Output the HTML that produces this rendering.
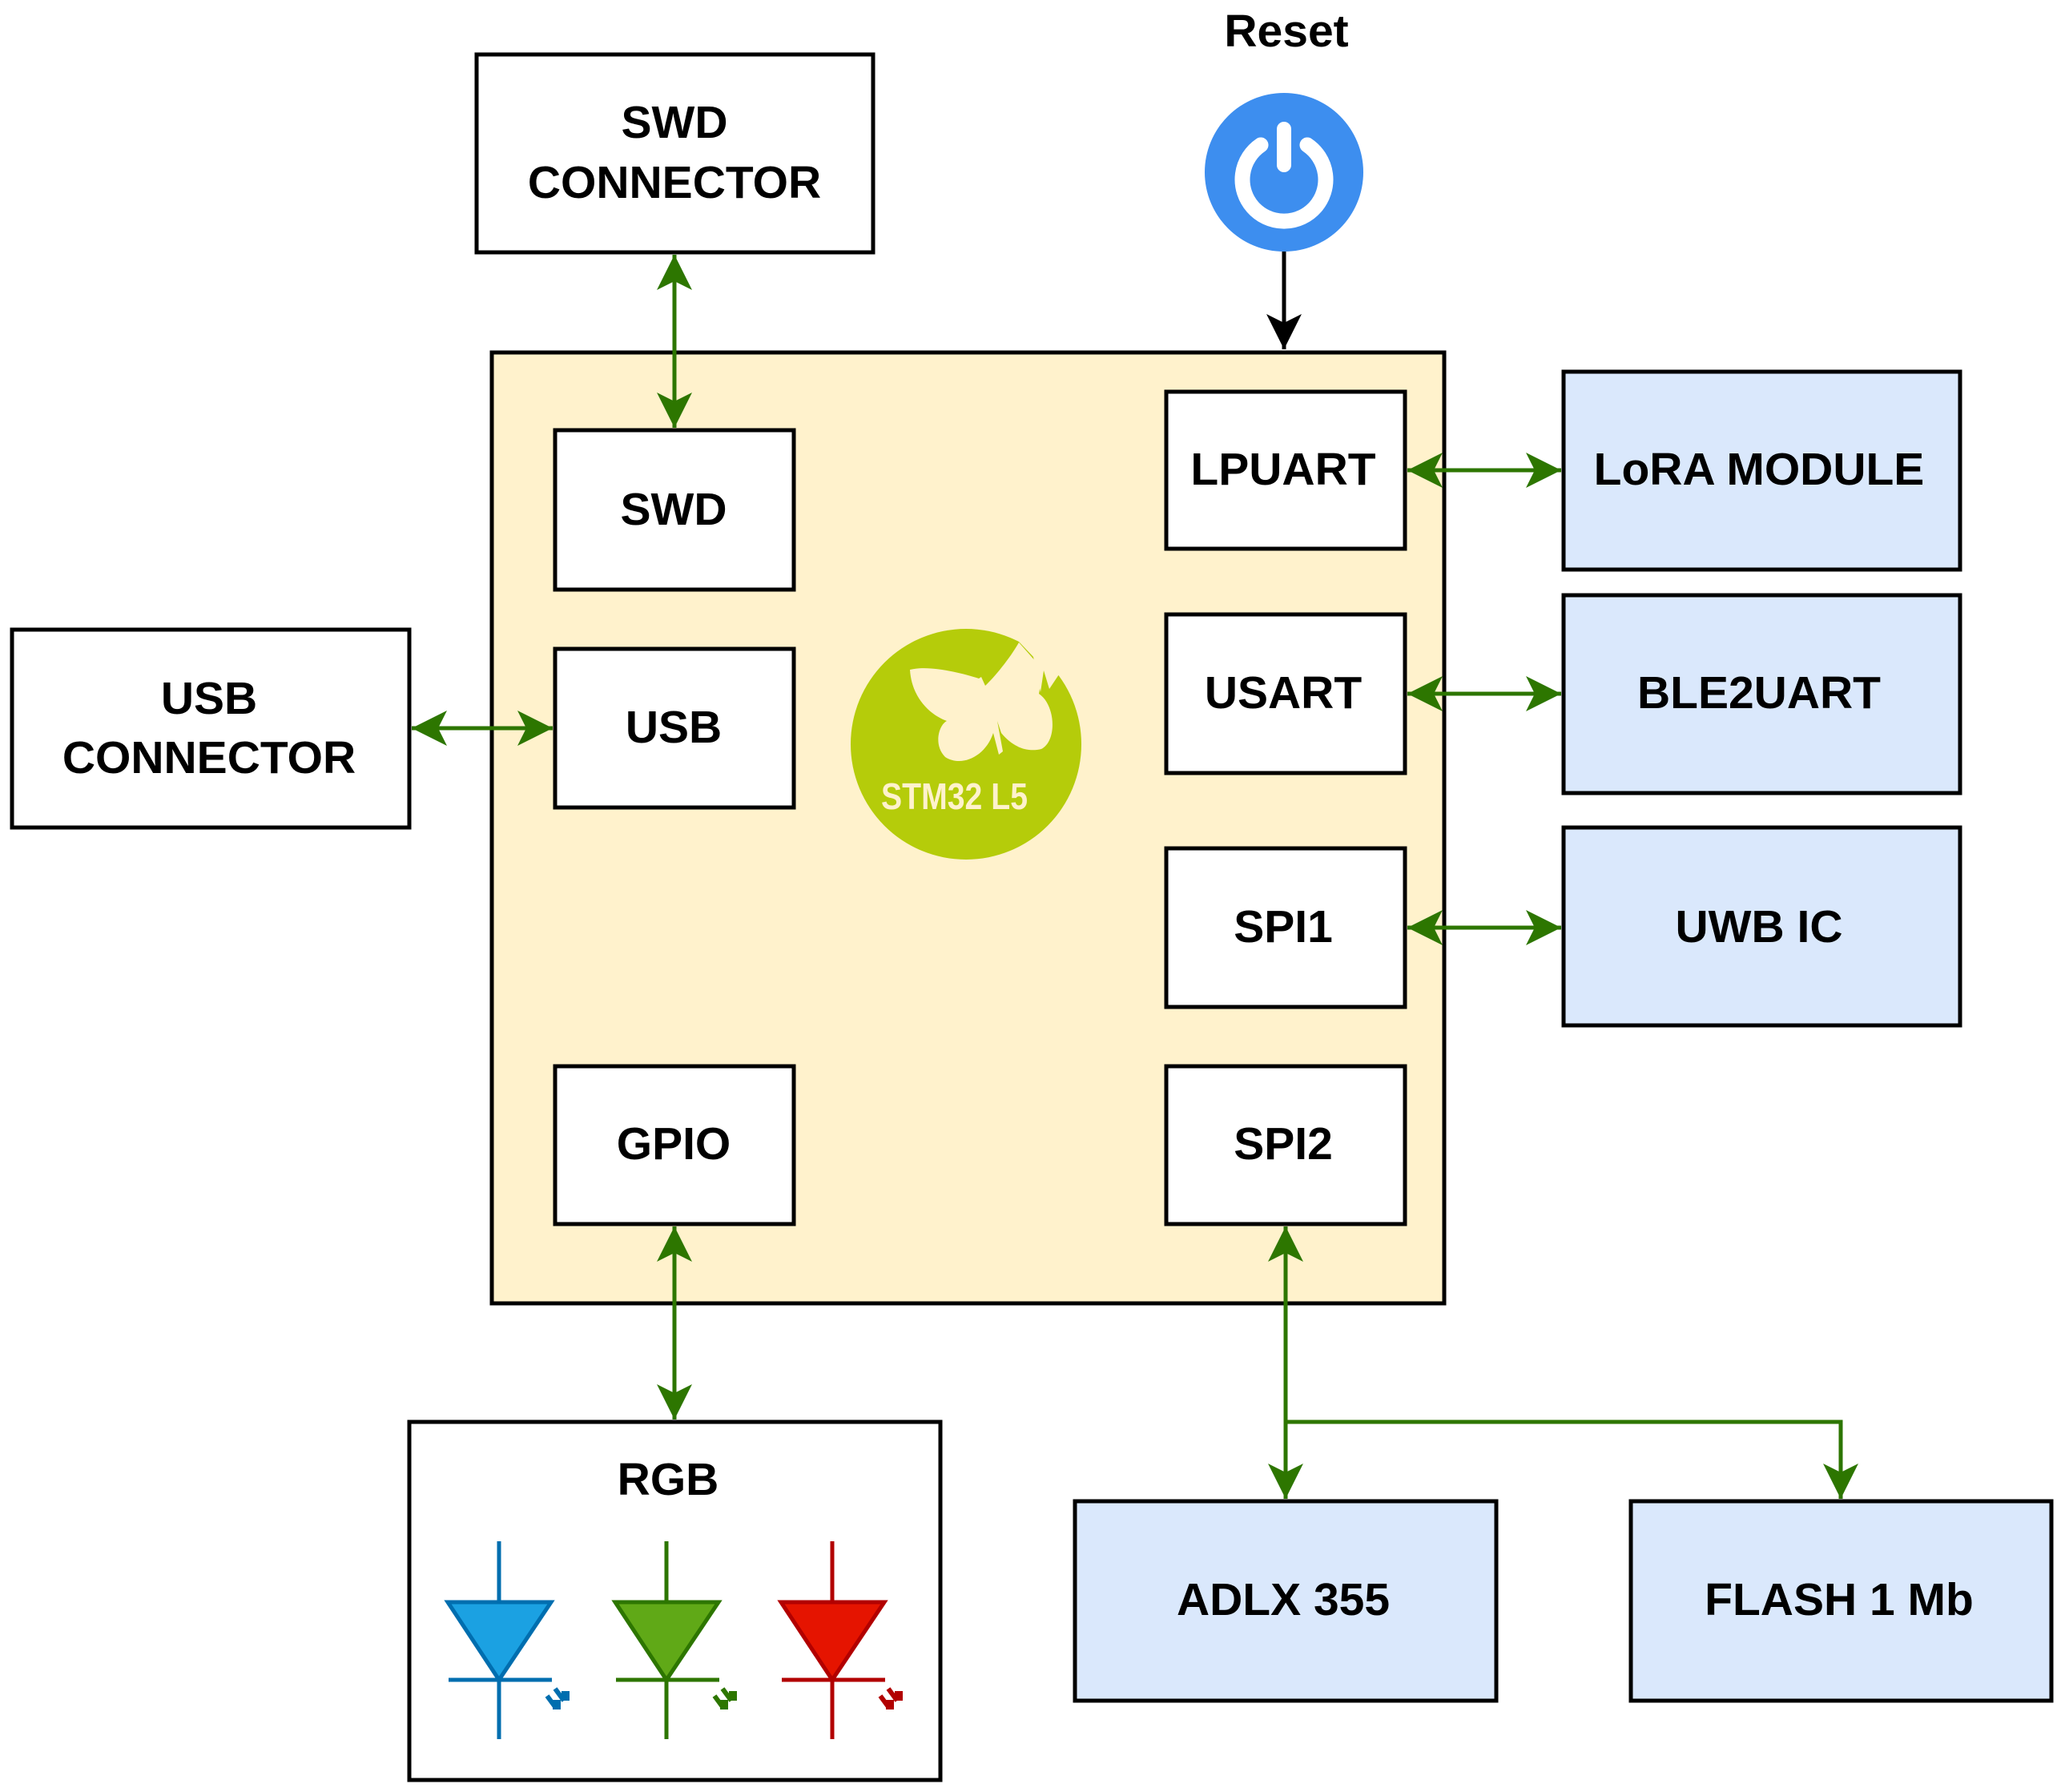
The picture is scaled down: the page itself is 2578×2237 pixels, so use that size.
<!DOCTYPE html>
<html><head><meta charset="utf-8"><style>
html,body{margin:0;padding:0;background:#fff}
svg{display:block}
text{font-family:"Liberation Sans",Arial,sans-serif;font-weight:bold;fill:#000}
</style></head><body>
<svg width="2578" height="2237" viewBox="0 0 2578 2237" xmlns="http://www.w3.org/2000/svg">
<defs>
<marker id="g" markerUnits="userSpaceOnUse" markerWidth="60" markerHeight="60" refX="44" refY="22" orient="auto-start-reverse" viewBox="0 0 60 44">
<path d="M0,0 L44,22 L0,44 L11,22 Z" fill="#2d7600"/>
</marker>
<marker id="k" markerUnits="userSpaceOnUse" markerWidth="60" markerHeight="60" refX="44" refY="22" orient="auto" viewBox="0 0 60 44">
<path d="M0,0 L44,22 L0,44 L11,22 Z" fill="#000"/>
</marker>
</defs>
<g stroke="#000" stroke-width="5">
<rect x="614" y="440" width="1189" height="1187" fill="#fff2cc"/>
<rect x="595" y="68" width="495" height="247" fill="#fff"/>
<rect x="15" y="786" width="496" height="247" fill="#fff"/>
<rect x="693" y="537" width="298" height="199" fill="#fff"/>
<rect x="693" y="810" width="298" height="198" fill="#fff"/>
<rect x="693" y="1331" width="298" height="197" fill="#fff"/>
<rect x="1456" y="489" width="298" height="196" fill="#fff"/>
<rect x="1456" y="767" width="298" height="198" fill="#fff"/>
<rect x="1456" y="1059" width="298" height="198" fill="#fff"/>
<rect x="1456" y="1331" width="298" height="197" fill="#fff"/>
<rect x="1952" y="464" width="495" height="247" fill="#dae8fc"/>
<rect x="1952" y="743" width="495" height="247" fill="#dae8fc"/>
<rect x="1952" y="1033" width="495" height="247" fill="#dae8fc"/>
<rect x="511" y="1775" width="663" height="447" fill="#fff"/>
<rect x="1342" y="1874" width="526" height="249" fill="#dae8fc"/>
<rect x="2036" y="1874" width="525" height="249" fill="#dae8fc"/>
</g>
<g font-size="57" text-anchor="middle">
<text x="842" y="172">SWD</text>
<text x="842" y="247">CONNECTOR</text>
<text x="261" y="891">USB</text>
<text x="261" y="965">CONNECTOR</text>
<text x="841" y="655">SWD</text>
<text x="841" y="927">USB</text>
<text x="841" y="1447">GPIO</text>
<text x="1602" y="605">LPUART</text>
<text x="1602" y="884">USART</text>
<text x="1602" y="1176">SPI1</text>
<text x="1602" y="1447">SPI2</text>
<text x="2196" y="605">LoRA MODULE</text>
<text x="2196" y="884">BLE2UART</text>
<text x="2196" y="1176">UWB IC</text>
<text x="834" y="1866">RGB</text>
<text x="1602" y="2016">ADLX 355</text>
<text x="2296" y="2016">FLASH 1 Mb</text>
<text x="1606" y="58">Reset</text>
</g>
<g stroke="#2d7600" stroke-width="5" fill="none">
<line x1="842" y1="318" x2="842" y2="534" marker-start="url(#g)" marker-end="url(#g)"/>
<line x1="514" y1="909" x2="690" y2="909" marker-start="url(#g)" marker-end="url(#g)"/>
<line x1="842" y1="1531" x2="842" y2="1772" marker-start="url(#g)" marker-end="url(#g)"/>
<line x1="1757" y1="587" x2="1949" y2="587" marker-start="url(#g)" marker-end="url(#g)"/>
<line x1="1757" y1="866" x2="1949" y2="866" marker-start="url(#g)" marker-end="url(#g)"/>
<line x1="1757" y1="1158" x2="1949" y2="1158" marker-start="url(#g)" marker-end="url(#g)"/>
<line x1="1605" y1="1531" x2="1605" y2="1871" marker-start="url(#g)" marker-end="url(#g)"/>
<polyline points="1605,1775 2298,1775 2298,1871" marker-end="url(#g)"/>
</g>
<line x1="1603" y1="314" x2="1603" y2="436" stroke="#000" stroke-width="5" marker-end="url(#k)"/>
<circle cx="1603" cy="215" r="99" fill="#3d8eef"/>
<path d="M1574,181 A52,52 0 1 0 1632,181" fill="none" stroke="#fff" stroke-width="19" stroke-linecap="round"/>
<line x1="1603" y1="161" x2="1603" y2="206" stroke="#fff" stroke-width="18" stroke-linecap="round"/>
<circle cx="1206" cy="929" r="144" fill="#b5cc0a"/>
<g fill="#fff2cc">
<path d="M1272,801 L1310,784 L1330,830 L1310,860 L1303,837 L1299,864 L1290,820 Z"/>
<path d="M1136,836 C1160,830 1200,840 1222,847 L1225,845 L1230,856 C1242,845 1262,820 1272,802 L1302,836 L1297,866 C1318,880 1320,925 1300,935 C1280,940 1262,930 1250,915 L1245,900 L1252,938 L1247,942 L1240,915 C1230,945 1200,958 1180,945 C1165,930 1172,905 1182,900 C1160,892 1138,870 1136,836 Z"/>
</g>
<text x="1100" y="1010" font-size="46" style="fill:#fff2cc" textLength="183" lengthAdjust="spacingAndGlyphs">STM32 L5</text>
<g stroke-width="5">
<g stroke="#006eaf"><line x1="623" y1="1924" x2="623" y2="2171"/><line x1="560" y1="2097" x2="689" y2="2097"/><path d="M559,2000 L688,2000 L623,2097 Z" fill="#1ba1e2"/><path d="M683,2117 L694,2132 M693,2108 L704,2123" stroke-width="6"/><rect x="690" y="2122" width="10" height="12" fill="#006eaf" stroke="none"/><rect x="701" y="2111" width="10" height="12" fill="#006eaf" stroke="none"/></g>
<g stroke="#2d7600"><line x1="832" y1="1924" x2="832" y2="2171"/><line x1="769" y1="2097" x2="898" y2="2097"/><path d="M768,2000 L897,2000 L832,2097 Z" fill="#60a917"/><path d="M892,2117 L903,2132 M902,2108 L913,2123" stroke-width="6"/><rect x="899" y="2122" width="10" height="12" fill="#2d7600" stroke="none"/><rect x="910" y="2111" width="10" height="12" fill="#2d7600" stroke="none"/></g>
<g stroke="#b20000"><line x1="1039" y1="1924" x2="1039" y2="2171"/><line x1="976" y1="2097" x2="1105" y2="2097"/><path d="M975,2000 L1104,2000 L1039,2097 Z" fill="#e51400"/><path d="M1099,2117 L1110,2132 M1109,2108 L1120,2123" stroke-width="6"/><rect x="1106" y="2122" width="10" height="12" fill="#b20000" stroke="none"/><rect x="1117" y="2111" width="10" height="12" fill="#b20000" stroke="none"/></g>
</g>
</svg>
</body></html>
